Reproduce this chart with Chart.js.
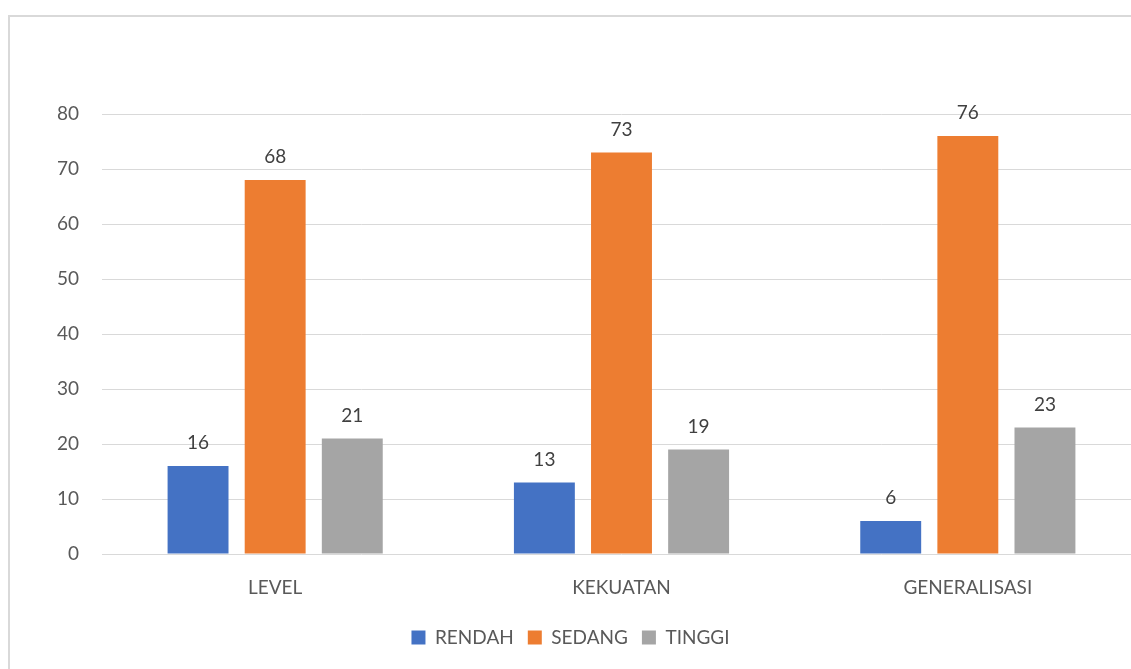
<!DOCTYPE html>
<html>
<head>
<meta charset="utf-8">
<script src="https://cdn.jsdelivr.net/npm/chart.js@4/dist/chart.umd.min.js"></script>
<style>
  html, body { margin: 0; padding: 0; background: #fff; overflow: hidden; }
  #frame { position: absolute; left: 8px; top: 15px; width: 1200px; height: 700px; border: 2px solid #d9d9d9; box-sizing: border-box; }
  #wrap { position: absolute; left: 0; top: 0; width: 1150px; height: 669px; }
</style>
</head>
<body>
<div id="frame"></div>
<div id="wrap"><canvas id="chart"></canvas></div>
<script>
const categories = ['LEVEL', 'KEKUATAN', 'GENERALISASI'];
const rendah = [16, 13, 6];
const sedang = [68, 73, 76];
const tinggi = [21, 19, 23];
const yTicks = [0, 10, 20, 30, 40, 50, 60, 70, 80];

const FONT = 'Lato, "Noto Sans", sans-serif';
const FONT_SIZE = 19;

// draws the value above each bar
const valueLabels = {
    id: 'valueLabels',
    afterDatasetsDraw(chart) {
        const ctx = chart.ctx;
        ctx.save();
        ctx.font = FONT_SIZE + 'px ' + FONT;
        ctx.fillStyle = '#404040';
        ctx.textAlign = 'center';
        ctx.textBaseline = 'alphabetic';
        chart.data.datasets.forEach((ds, i) => {
            chart.getDatasetMeta(i).data.forEach((bar, j) => {
                ctx.fillText(ds.data[j], bar.x, bar.y - 17);
            });
        });
        ctx.restore();
    }
};

new Chart(document.getElementById('chart'), {
    type: 'bar',
    data: {
        labels: categories,
        datasets: [
            { label: 'RENDAH', data: rendah, backgroundColor: '#4472C4' },
            { label: 'SEDANG', data: sedang, backgroundColor: '#ED7D31' },
            { label: 'TINGGI', data: tinggi, backgroundColor: '#A5A5A5' }
        ]
    },
    options: {
        responsive: true,
        maintainAspectRatio: false,
        animation: false,
        categoryPercentage: 0.668,
        barPercentage: 0.79,
        layout: { padding: { top: 114, right: 9, bottom: 12, left: 0 } },
        scales: {
            x: {
                grid: { display: false },
                border: { display: false },
                ticks: { color: '#595959', font: { family: FONT, size: FONT_SIZE }, padding: 14 },
                afterFit(scale) { scale.height = 60; }
            },
            y: {
                min: 0,
                max: 80,
                afterBuildTicks(scale) { scale.ticks = yTicks.map(v => ({ value: v })); },
                grid: { color: '#d9d9d9', lineWidth: 1, drawTicks: false },
                border: { display: false },
                ticks: { color: '#595959', font: { family: FONT, size: FONT_SIZE }, padding: 23 },
                afterFit(scale) { scale.width = 102; }
            }
        },
        plugins: {
            legend: {
                position: 'bottom',
                labels: {
                    boxWidth: 14,
                    boxHeight: 14,
                    padding: 14,
                    color: '#595959',
                    font: { family: FONT, size: FONT_SIZE }
                }
            },
            tooltip: { enabled: false }
        }
    },
    plugins: [valueLabels]
});
</script>
</body>
</html>
